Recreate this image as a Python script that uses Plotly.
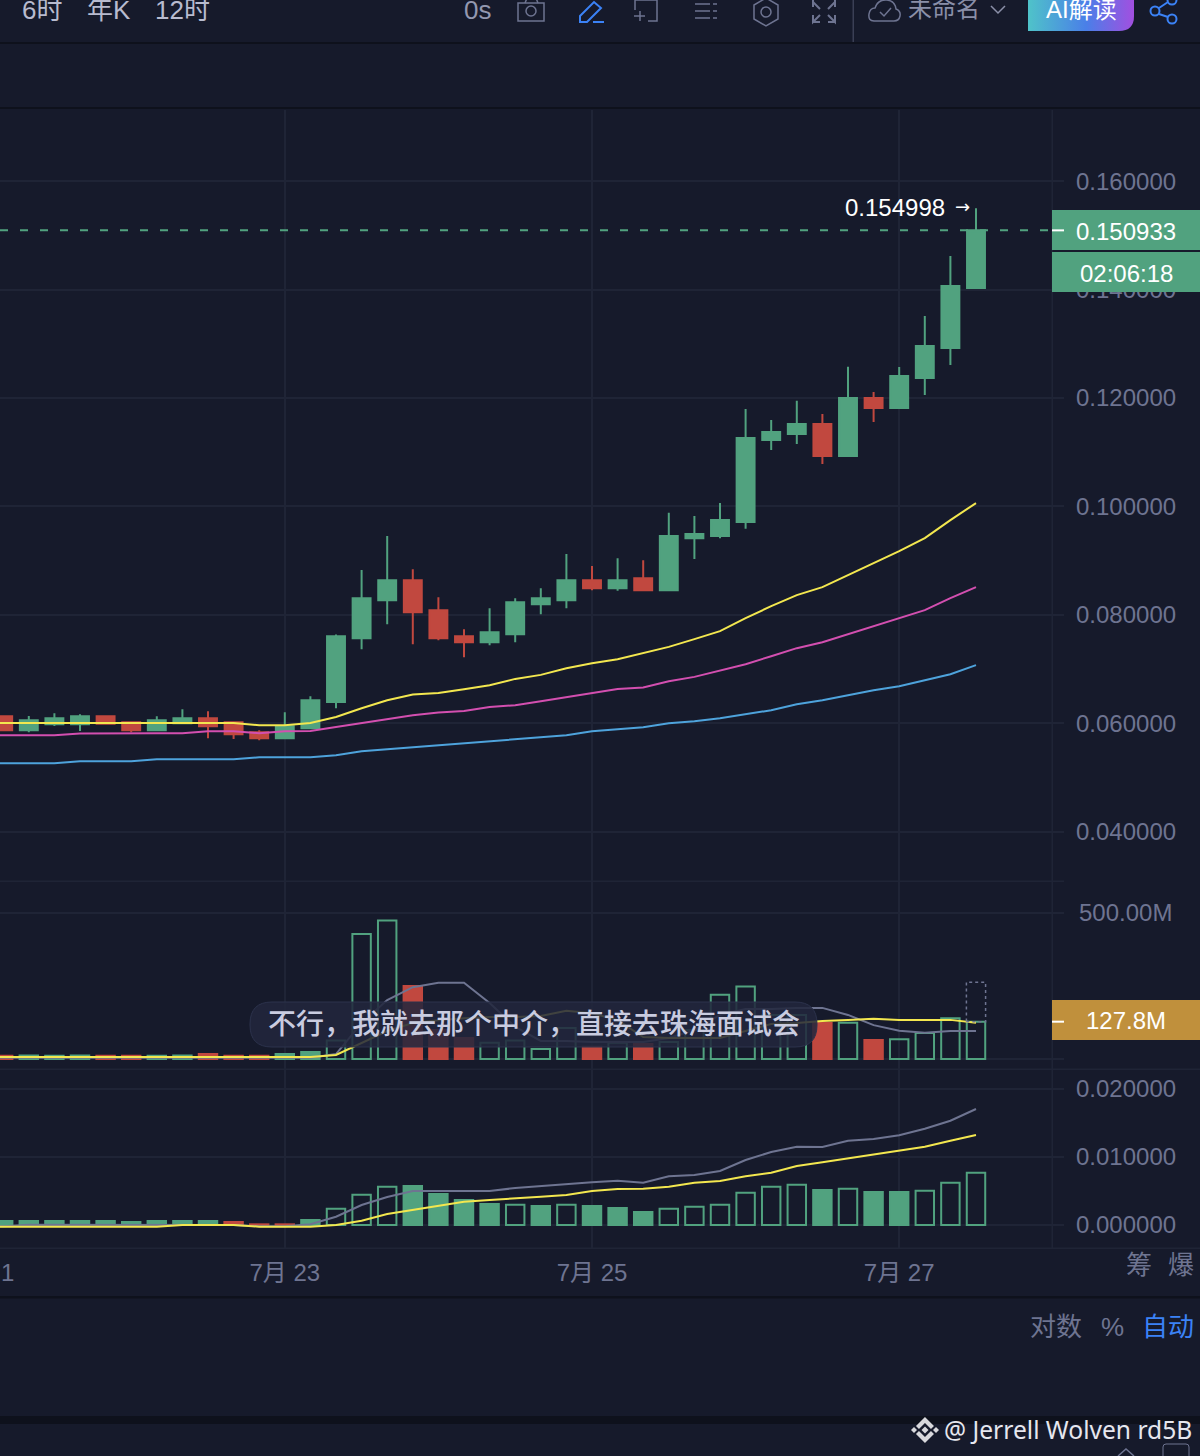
import base64

import pandas as pd
import plotly.graph_objects as go
from plotly.subplots import make_subplots

W = 1200
H = 1456

BG = "#161A2B"
GRID = "#1F2436"
DARK = "#0E111C"
GREEN = "#51A27F"
RED = "#C1483F"
YELLOW = "#F3E74F"
PINK = "#D34FB0"
BLUE = "#4EA3DC"
GRAY = "#6E7491"
LINK = "#3B82F6"
FONT = "Liberation Sans, Noto Sans CJK SC"

# 4h candles, the first one sits just left of the visible range
times = pd.date_range("2024-07-21 00:00", periods=40, freq="4h")

opens = [
    .05982, .06129, .05871, .05982, .05982, .06129, .06018, .05871, .06, .06092, .06018,
    .05834, .05723, .05908, .06393, .07569, .08271, .0864, .08086, .07606, .07495, .07643,
    .08197, .0827, .0864, .08492, .08677, .08455, .09415, .09452, .09711, .11225, .11335,
    .1152, .10929, .12, .11816, .12369, .12923, .14031,
]
closes = [
    .06129, .05871, .06055, .06092, .06129, .05991, .05871, .06055, .06092, .05945, .05797,
    .05723, .05945, .06425, .07606, .08308, .0864, .08049, .07569, .07495, .0768, .08234,
    .08308, .0864, .08492, .0864, .08455, .09452, .09489, .09748, .11262, .11372, .1152,
    .10929, .12, .11816, .12406, .1296, .14068, .150933,
]
highs = [
    .06148, .06148, .06135, .06185, .06166, .06148, .06037, .06129, .06258, .06222, .06028,
    .05871, .06203, .06498, .07638, .08825, .09452, .08843, .08326, .07735, .08123, .08308,
    .08492, .0912, .08899, .09046, .09009, .09883, .09822, .10062, .11797, .11594, .1195,
    .11705, .12578, .12111, .12572, .13514, .14622, .154998,
]
lows = [
    .05858, .05858, .05834, .0595, .05858, .05982, .05834, .05862, .05991, .05723, .0571,
    .05686, .05723, .05908, .06277, .07366, .07828, .07458, .07532, .07218, .0744, .07495,
    .08012, .08123, .08455, .08442, .08442, .08437, .09028, .09415, .09587, .1104, .11151,
    .10782, .10911, .11557, .11797, .12056, .12609, .14031,
]

ma_fast = [
    .06006, .06006, .06006, .06006, .06006, .06006, .06006, .06006, .06006, .06006, .06006,
    .05963, .05963, .06006, .06116, .06277, .06425, .0653, .06559, .06628, .06702, .06818,
    .06892, .07015, .07108, .07182, .07298, .07409, .07551, .07699, .07938, .0816, .08363,
    .08511, .08732, .08954, .09175, .09415, .09748, .10062,
]
ma_mid = [
    .05778, .05778, .05778, .05778, .0581, .05815, .05815, .05815, .05815, .05852, .05852,
    .05815, .05852, .05858, .05932, .06006, .06087, .06148, .06198, .06227, .06301, .06332,
    .06406, .06486, .06559, .06633, .06659, .06775, .06855, .06978, .07089, .07237, .07385,
    .07495, .07643, .07791, .07939, .08086, .08308, .08511,
]
ma_slow = [
    .05262, .05262, .05262, .05262, .05298, .05298, .05298, .05335, .05335, .05335, .05335,
    .05372, .05372, .05372, .05409, .05483, .0552, .05557, .05594, .05631, .05668, .05705,
    .05742, .05778, .05852, .05889, .05926, .06, .06037, .06092, .06166, .0624, .06351,
    .06425, .06517, .06609, .06683, .06794, .06905, .07071,
]

volume = [
    11, 11, 12, 11, 12, 11, 11, 11, 12, 17, 11, 11, 17, 24, 63, 428, 474, 250, 99, 72, 56, 63,
    34, 106, 42, 56, 51, 58, 99, 220, 248, 151, 151, 123, 124, 65, 68, 89, 140, 127.8,
]
volume_filled = [True] * 14 + [
    False, False, False, True, True, True, False, False, False, False, True, False, True,
    False, False, False, False, False, False, True, False, True, False, False, False, False,
]
volume_ma_fast = [
    4, 4, 4, 4, 4, 4, 4, 4, 4, 4, 4, 4, 4, 4, 17, 123, 202, 246, 261, 261, 192, 110, 62, 62,
    58, 58, 58, 72, 99, 151, 171, 171, 175, 175, 151, 116, 97, 90, 96, 96,
]
volume_ma_slow = [
    7, 7, 7, 7, 7, 7, 7, 7, 7, 7, 7, 7, 7, 7, 14, 55, 96, 123, 133, 140, 144, 144, 147, 165,
    157, 133, 75, 72, 72, 72, 96, 120, 123, 130, 134, 138, 134, 134, 134, 124,
]
projected_volume = 262.7

macd_hist = [
    .0006, .0006, .0006, .0006, .0006, .0006, .00044, .0006, .0006, .0006, .00044, .0001,
    .0001, .00074, .0024, .00446, .00563, .00574, .00456, .00368, .00309, .00299, .00279,
    .00299, .00279, .0025, .00191, .0024, .00269, .00299, .00475, .00563, .00593, .00515,
    .00534, .00485, .00485, .00504, .00622, .00769,
]
macd_filled = [True] * 14 + [
    False, False, False, True, True, True, True, False, True, False, True, True, True, False,
    False, False, False, False, False, True, False, True, True, False, False, False,
]
macd_colors = [GREEN] * 10 + [RED] * 3 + [GREEN] * 27
macd_dif = [
    -.0002, -.0002, .00005, .00005, .00005, .00005, .00005, .00005, .00005, .00005, 0, -.0002,
    -.0002, .0001, .00122, .00294, .00412, .005, .005, .005, .005, .00544, .00574, .00603,
    .00628, .00651, .00622, .00716, .00735, .00794, .00956, .01074, .01151, .01147, .0124,
    .01265, .01319, .01416, .01534, .01706,
]
macd_dea = [
    -.00025, -.00025, -.00025, -.00025, -.00025, -.00025, -.00025, -.00025, 0, 0, 0, -.00025,
    -.00025, -.00025, 0, .00063, .00162, .00221, .00279, .00343, .00368, .00397,
    .00416, .00441, .005, .00529, .00534, .00563, .00622, .00647, .00716, .00769, .00868,
    .00922, .00981, .0104, .01093, .01151, .0124, .01324,
]

price_ticks = [.04, .06, .08, .1, .12, .14, .16]
macd_ticks = [0, .01, .02]
date_ticks = ["2024-07-23", "2024-07-25", "2024-07-27"]
date_labels = ["7月 23", "7月 25", "7月 27"]
subtitle = "不行，我就去那个中介，直接去珠海面试会"


def px(x):
    return x / W


def py(y):
    return 1 - y / H


def rect(x0, y0, x1, y1, fill=None, line=None, width=1.5):
    return dict(
        type="rect", xref="paper", yref="paper", layer="above",
        x0=px(x0), x1=px(x1), y0=py(y0), y1=py(y1),
        fillcolor=fill or "rgba(0,0,0,0)",
        line=dict(color=line or "rgba(0,0,0,0)", width=width if line else 0),
    )


def poly(points, color=GRAY, width=1.5, fill=None, closed=False):
    path = "M " + " L ".join(f"{px(a):.5f},{py(b):.5f}" for a, b in points)
    if closed:
        path += " Z"
    return dict(
        type="path", xref="paper", yref="paper", layer="above", path=path,
        fillcolor=fill or "rgba(0,0,0,0)",
        line=dict(color=color, width=width if width else 0),
    )


def circle(cx, cy, r, color=GRAY, width=1.5):
    return dict(
        type="circle", xref="paper", yref="paper", layer="above",
        x0=px(cx - r), x1=px(cx + r), y0=py(cy - r), y1=py(cy + r),
        line=dict(color=color, width=width),
    )


def pill(x0, y0, x1, y1, r, fill, line):
    a, b, c, d = px(x0), px(x1), py(y0), py(y1)
    rx, ry = r / W, r / H
    path = (
        f"M {a + rx},{c} L {b - rx},{c} Q {b},{c} {b},{c - ry} L {b},{d + ry} "
        f"Q {b},{d} {b - rx},{d} L {a + rx},{d} Q {a},{d} {a},{d + ry} "
        f"L {a},{c - ry} Q {a},{c} {a + rx},{c} Z"
    )
    return dict(
        type="path", xref="paper", yref="paper", layer="above", path=path,
        fillcolor=fill, line=dict(color=line, width=1),
    )


def cloud():
    # start point, then control/end pairs
    start = (874, 21)
    arcs = [
        ((868, 21), (869, 14)), ((870, 8), (875, 8)), ((878, -1), (887, 0)),
        ((895, 1), (896, 9)), ((901, 11), (900, 16)), ((899, 21), (894, 21)),
    ]
    path = f"M {px(start[0])},{py(start[1])}"
    for (cx, cy), (ex, ey) in arcs:
        path += f" Q {px(cx)},{py(cy)} {px(ex)},{py(ey)}"
    path += " Z"
    return dict(
        type="path", xref="paper", yref="paper", layer="above", path=path,
        line=dict(color=GRAY, width=1.5),
    )


def label(x, y, text, size=24, color=GRAY, anchor="center", family=FONT, weight=None):
    font = dict(size=size, color=color, family=family)
    if weight:
        font["weight"] = weight
    return dict(
        xref="paper", yref="paper", x=px(x), y=py(y), text=text, showarrow=False,
        xanchor=anchor, yanchor="middle", borderpad=0, font=font,
    )


fig = make_subplots(rows=3, cols=1, shared_xaxes=True, vertical_spacing=0)

fig.add_trace(
    go.Candlestick(
        x=times, open=opens, high=highs, low=lows, close=closes, whiskerwidth=0,
        increasing=dict(line=dict(color=GREEN, width=2), fillcolor=GREEN),
        decreasing=dict(line=dict(color=RED, width=2), fillcolor=RED),
    ),
    row=1, col=1,
)
for values, color in [(ma_slow, BLUE), (ma_mid, PINK), (ma_fast, YELLOW)]:
    fig.add_trace(
        go.Scatter(x=times, y=values, mode="lines", line=dict(color=color, width=2)),
        row=1, col=1,
    )

# bar width in ms, one candle is 4h
bar_width = 4 * 3600 * 1000 * 0.72

vol_colors = [GREEN if c >= o else RED for o, c in zip(opens, closes)]
fig.add_trace(
    go.Bar(
        x=times, y=volume, width=bar_width,
        marker=dict(
            color=[c if f else "rgba(0,0,0,0)" for c, f in zip(vol_colors, volume_filled)],
            line=dict(color=vol_colors, width=2),
        ),
    ),
    row=2, col=1,
)
for values, color in [(volume_ma_fast, GRAY), (volume_ma_slow, YELLOW)]:
    fig.add_trace(
        go.Scatter(x=times, y=values, mode="lines", line=dict(color=color, width=2)),
        row=2, col=1,
    )

fig.add_trace(
    go.Bar(
        x=times, y=macd_hist, width=bar_width,
        marker=dict(
            color=[c if f else "rgba(0,0,0,0)" for c, f in zip(macd_colors, macd_filled)],
            line=dict(color=macd_colors, width=2),
        ),
    ),
    row=3, col=1,
)
for values, color in [(macd_dif, GRAY), (macd_dea, YELLOW)]:
    fig.add_trace(
        go.Scatter(x=times, y=values, mode="lines", line=dict(color=color, width=2)),
        row=3, col=1,
    )

fig.update_xaxes(
    range=["2024-07-21 03:30", "2024-07-28 01:45"],
    domain=[0, 1064 / W],
    tickmode="array", tickvals=date_ticks, ticktext=date_labels,
    showgrid=True, gridcolor=GRID, gridwidth=1.5, zeroline=False, showline=False,
    ticks="", rangeslider_visible=False,
    tickfont=dict(size=24, color=GRAY, family=FONT),
)
fig.update_xaxes(ticklabelstandoff=8, row=3, col=1)

y_style = dict(
    side="right", showgrid=True, gridcolor=GRID, gridwidth=1.5, zeroline=False,
    showline=False, ticks="", tickmode="array",
    tickfont=dict(size=24, color=GRAY, family=FONT),
)
fig.update_yaxes(
    domain=[py(881), py(110)], range=[.03089, .17314], tickvals=price_ticks,
    ticktext=[f"{t:.6f}" for t in price_ticks], ticklabelstandoff=11, **y_style,
    row=1, col=1,
)
fig.update_yaxes(
    domain=[py(1069), py(881)], range=[-34.2, 609.6], tickvals=[0, 500],
    ticktext=["", "500.00M"], ticklabelstandoff=14, **y_style,
    row=2, col=1,
)
fig.update_yaxes(
    domain=[py(1248), py(1069)], range=[-.00338, .02294], tickvals=macd_ticks,
    ticktext=[f"{t:.6f}" for t in macd_ticks], ticklabelstandoff=11, **y_style,
    row=3, col=1,
)

button_svg = (
    '<svg xmlns="http://www.w3.org/2000/svg" width="106" height="31">'
    '<defs><linearGradient id="g"><stop offset="0" stop-color="#4FC3C9"/>'
    '<stop offset="0.55" stop-color="#4A7FE8"/><stop offset="1" stop-color="#A24FE0"/>'
    '</linearGradient></defs>'
    '<path d="M0 0H106V16Q106 31 91 31H0Z" fill="url(#g)"/></svg>'
)
button_uri = "data:image/svg+xml;base64," + base64.b64encode(button_svg.encode()).decode()

last_price = closes[-1]
last_volume = volume[-1]

shapes = [
    # pane frames
    rect(0, 42, W, 44, fill=DARK),
    rect(0, 107, W, 109, fill=DARK),
    rect(0, 880.5, 1064, 882, fill=GRID),
    rect(0, 1068.5, W, 1070, fill=GRID),
    rect(0, 1247.5, W, 1249, fill=GRID),
    rect(0, 1296, W, 1298.5, fill=DARK),
    rect(0, 1416, W, 1424, fill=DARK),
    rect(1051.5, 110, 1053, 1248, fill=GRID),
    rect(852.5, 0, 854, 42, fill="#3A3F55"),
    # last price line and tags
    dict(
        type="line", xref="paper", yref="y", x0=0, x1=px(1052), y0=last_price, y1=last_price,
        line=dict(color=GREEN, width=2, dash="8px,12px"),
    ),
    rect(1052, 210, W, 250, fill=GREEN),
    rect(1052, 252, W, 292, fill=GREEN),
    rect(1052, 1000, W, 1040, fill="#C0903C"),
    dict(
        type="line", xref="paper", yref="y", x0=px(1052), x1=px(1064), y0=last_price,
        y1=last_price, layer="above", line=dict(color="white", width=2),
    ),
    dict(
        type="line", xref="paper", yref="y2", x0=px(1052), x1=px(1064), y0=last_volume,
        y1=last_volume, layer="above", line=dict(color="white", width=2),
    ),
    # projected volume of the open candle
    dict(
        type="rect", xref="x2", yref="y2", x0="2024-07-27 10:30", x1="2024-07-27 13:30",
        y0=last_volume, y1=projected_volume, line=dict(color=GRAY, width=1.5, dash="3px,3px"),
    ),
    # subtitle pill
    pill(250, 1002, 817, 1047, 22, "rgba(34,39,60,0.86)", "#2C324C"),
    # camera
    rect(518, 3, 544, 21, line=GRAY),
    circle(531, 11, 5),
    poly([(525, 3), (527, -2), (536, -2), (538, 3)]),
    # pencil
    poly([(580, 16), (594, 2), (601, 8), (587, 22), (580, 22)], color=LINK, width=2, closed=True),
    poly([(593, 22), (604, 22)], color=LINK, width=2),
    # selection
    poly([(635, 10), (635, 0), (657, 0), (657, 21), (648, 21)]),
    poly([(634, 16), (645, 16)]),
    poly([(640, 11), (640, 21)]),
    # list
    poly([(695, 4), (710, 4)]),
    poly([(695, 11), (710, 11)]),
    poly([(695, 18), (710, 18)]),
    poly([(713, 4), (717, 4)]),
    poly([(713, 11), (717, 11)]),
    poly([(713, 18), (717, 18)]),
    # settings
    poly([(766, -2), (778, 5), (778, 19), (766, 26), (754, 19), (754, 5)], closed=True),
    circle(766, 12, 5),
    # fullscreen
    poly([(813, 7), (813, 0)], width=2),
    poly([(813, 2), (820, 9)], width=2),
    poly([(835, 7), (835, 0)], width=2),
    poly([(835, 2), (828, 9)], width=2),
    poly([(813, 22), (820, 22)], width=2),
    poly([(813, 15), (813, 22), (820, 15)], width=2),
    poly([(828, 22), (835, 22)], width=2),
    poly([(835, 15), (835, 22), (828, 15)], width=2),
    # cloud
    cloud(),
    poly([(880, 12), (884, 16), (891, 8)]),
    poly([(991, 6), (998, 13), (1005, 6)], color="#8A8FA8"),
    # share
    circle(1155, 11, 4.5, color=LINK, width=2),
    circle(1172, 0, 4.5, color=LINK, width=2),
    circle(1172, 19, 4.5, color=LINK, width=2),
    poly([(1159, 8), (1168, 2)], color=LINK, width=2),
    poly([(1159, 14), (1168, 17)], color=LINK, width=2),
    # watermark logo
    poly([(925, 1426.5), (928.5, 1430), (925, 1433.5), (921.5, 1430)], fill="#D8D8DC", width=0, closed=True),
    poly([(914, 1427), (917, 1430), (914, 1433), (911, 1430)], fill="#D8D8DC", width=0, closed=True),
    poly([(936, 1427), (939, 1430), (936, 1433), (933, 1430)], fill="#D8D8DC", width=0, closed=True),
    poly(
        [(925, 1417), (934, 1426), (931, 1429), (925, 1423), (919, 1429), (916, 1426)],
        fill="#D8D8DC", width=0, closed=True,
    ),
    poly(
        [(925, 1443), (934, 1434), (931, 1431), (925, 1437), (919, 1431), (916, 1434)],
        fill="#D8D8DC", width=0, closed=True,
    ),
    # bottom corner icons
    poly([(1118, 1456), (1126, 1449), (1134, 1456)]),
    pill(1163, 1444, 1189, 1462, 3, "rgba(0,0,0,0)", GRAY),
]

annotations = [
    label(42, 10, "6时", 26, "#B8BBCF"),
    label(109, 10, "年K", 26, "#B8BBCF"),
    label(182, 10, "12时", 26, "#B8BBCF"),
    label(477, 10, "0s", 26, "#9398B0"),
    label(944, 9, "未命名", 24, "#8A8FA8"),
    label(1081, 10, "AI解读", 24, "white"),
    label(946, 208, "0.154998", 24, "white", anchor="right"),
    label(962, 207, "→", 18, "white", family="DejaVu Sans"),
    label(1126, 231, f"{last_price:.6f}", 24, "white"),
    label(1126, 273, "02:06:18", 24, "white"),
    label(1126, 1021, f"{last_volume}M", 24, "white"),
    label(7, 1272, "1", 24),
    label(1139, 1265, "筹", 26),
    label(1181, 1265, "爆", 26),
    label(1056, 1327, "对数", 26),
    label(1112, 1327, "%", 26),
    label(1168, 1327, "自动", 26, LINK),
    label(534, 1024, subtitle, 28, "#C9CCE0", weight=500),
    label(1193, 1429, "@ Jerrell Wolven rd5B", 24.6, "#E6E7EF", anchor="right", family="Noto Sans"),
]

fig.update_layout(
    width=W,
    height=H,
    autosize=False,
    margin=dict(l=0, r=0, t=0, b=0),
    paper_bgcolor=BG,
    plot_bgcolor=BG,
    showlegend=False,
    barmode="overlay",
    boxgap=0.3,
    boxgroupgap=0,
    hovermode=False,
    shapes=shapes,
    annotations=annotations,
    images=[
        dict(
            source=button_uri, xref="paper", yref="paper", x=px(1028), y=py(0),
            sizex=px(106) - px(0), sizey=31 / H, xanchor="left", yanchor="top",
            sizing="stretch", layer="above",
        )
    ],
)

fig.write_html(
    "out.html",
    config={"displayModeBar": False},
    post_script="document.body.style.margin='0';document.body.style.overflow='hidden';",
)
